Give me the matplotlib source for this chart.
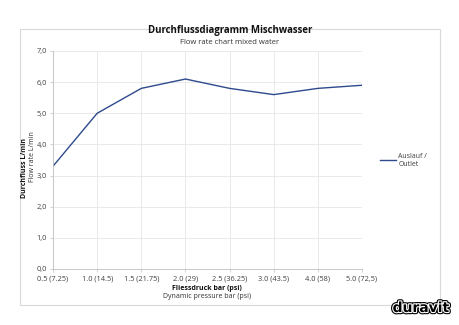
import matplotlib
matplotlib.use("Agg")
import matplotlib.pyplot as plt
import matplotlib.patheffects as pe
from matplotlib.patches import Rectangle

categories = ["0.5 (7.25)", "1.0 (14.5)", "1.5 (21.75)", "2.0 (29)", "2.5 (36.25)",
              "3.0 (43.5)", "4.0 (58)", "5.0 (72,5)"]
flow = [3.3, 5.0, 5.8, 6.1, 5.8, 5.6, 5.8, 5.9]
yticks = [0, 1, 2, 3, 4, 5, 6, 7]
ytick_labels = ["0,0", "1,0", "2,0", "3,0", "4,0", "5,0", "6,0", "7,0"]

plt.rcParams['font.family'] = ['Open Sans', 'DejaVu Sans']

fig = plt.figure(figsize=(4.6, 3.25), dpi=100)
fig.patch.set_facecolor("white")

# outer chart frame
fig.add_artist(Rectangle((20/460, 1-305/325), 420/460, 276/325, transform=fig.transFigure,
                         fill=False, edgecolor="#d9d9d9", linewidth=0.8))

ax = fig.add_axes([53/460, 1-269/325, 309/460, 218/325])
x = list(range(len(categories)))
ax.plot(x, flow, color="#2e4a8c", linewidth=1.0, label="Auslauf /\nOutlet")
ax.set_xlim(0, len(categories)-1)
ax.set_ylim(0, 7)
ax.set_xticks(x)
ax.set_xticklabels(categories, fontsize=5.3, color="#404040")
ax.set_yticks(yticks)
ax.set_yticklabels(ytick_labels, fontsize=5.3, color="#404040")
ax.grid(True, color="#e6e6e6", linewidth=0.6)
ax.set_axisbelow(True)
for s in ["top", "right"]:
    ax.spines[s].set_visible(False)
for s in ["left", "bottom"]:
    ax.spines[s].set_color("#bfbfbf")
    ax.spines[s].set_linewidth(0.6)
ax.tick_params(axis="both", length=2.5, width=0.5, color="#bfbfbf", pad=2)

fig.text(0.5, 1-31/325, "Durchflussdiagramm Mischwasser", ha="center", va="center",
         fontsize=6.9, fontweight="bold", color="#111111")
fig.text(0.5, 1-43/325, "Flow rate chart mixed water", ha="center", va="center",
         fontsize=5.5, color="#333333")

fig.text(207/460, 1-288/325, "Fliessdruck bar (psi)", ha="center", va="center",
         fontsize=5.0, fontweight="bold", color="#111111")
fig.text(207/460, 1-297/325, "Dynamic pressure bar (psi)", ha="center", va="center",
         fontsize=5.0, color="#333333")

fig.text(25/460, 1-168/325, "Durchfluss L/min", ha="center", va="center", rotation=90,
         fontsize=5.0, fontweight="bold", color="#111111")
fig.text(32.5/460, 1-157/325, "Flow rate L/min", ha="center", va="center", rotation=90,
         fontsize=5.0, color="#333333")

fig.legend(loc="center left", bbox_to_anchor=(374/460, 1-160/325), frameon=False,
           fontsize=5.0, handlelength=2.2, handletextpad=0.4, labelcolor="#404040")

fig.text(449/460, 1-308/325, "duravit", ha="right", va="center", fontsize=10,
         fontweight="bold", color="black", family="DejaVu Sans",
         path_effects=[pe.Stroke(linewidth=3.2, foreground="black"),
                       pe.Stroke(linewidth=1.6, foreground="white"),
                       pe.Normal()])

fig.savefig("out.png", dpi=100, facecolor="white")
